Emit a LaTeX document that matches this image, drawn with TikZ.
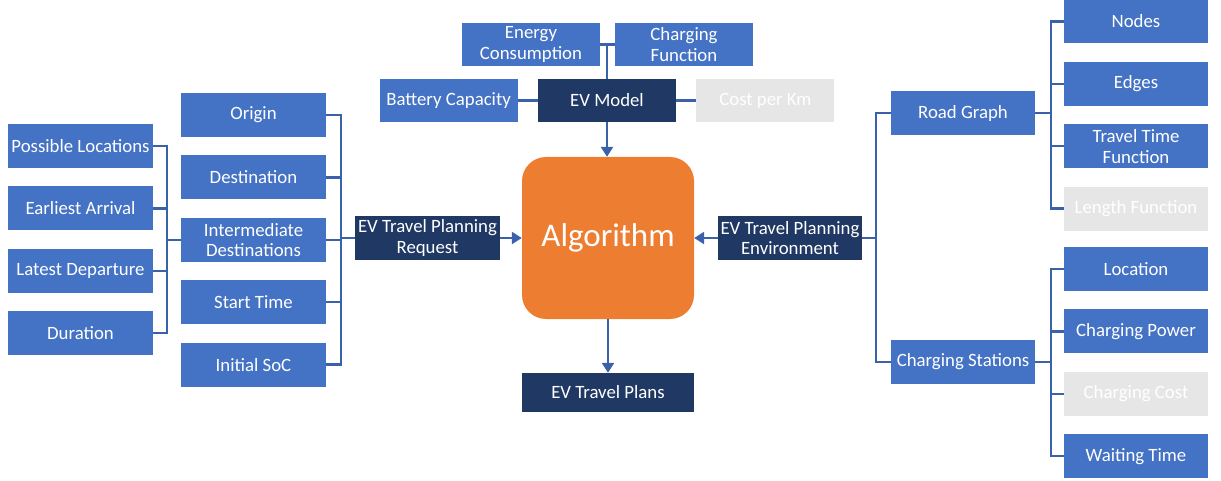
\documentclass[tikz,border=0pt]{standalone}
\usepackage{fontspec}
\setmainfont{Carlito}
\usetikzlibrary{positioning,arrows.meta}
\definecolor{boxblue}{HTML}{4472C4}
\definecolor{navy}{HTML}{203864}
\definecolor{offgrey}{HTML}{E7E6E6}
\definecolor{algoorange}{HTML}{ED7D31}
\definecolor{linkblue}{HTML}{3A62AA}
\begin{document}
\begin{tikzpicture}[x=1pt, y=-1pt, node distance=18pt,
    item/.style={rectangle, fill=boxblue, text=white, minimum width=145pt, minimum height=44pt,
      inner sep=2pt, align=center, font=\fontsize{18.8}{20.5}\selectfont},
    main/.style={item, fill=navy},
    off/.style={item, fill=offgrey},
    small/.style={minimum width=138pt, minimum height=43pt},
    algo/.style={rectangle, fill=algoorange, text=white, rounded corners=24pt,
      minimum width=172pt, minimum height=162pt, font=\fontsize{33}{38}\selectfont},
    link/.style={draw=linkblue, line width=2.4pt},
    flow/.style={link, -{Triangle[length=10pt, width=12pt]}}]
    \useasboundingbox (0,0) rectangle (1221,481);
    % request side
    \node[item] (posloc) at (80.5,146) {Possible Locations};
    \node[item, below=of posloc] (earliest) {Earliest Arrival};
    \node[item, below=of earliest] (latest) {Latest Departure};
    \node[item, below=of latest] (duration) {Duration};
    \node[item] (origin) at (253.5,115) {Origin};
    \node[item, below=of origin] (dest) {Destination};
    \node[item, below=of dest] (intdest) {Intermediate\\Destinations};
    \node[item, below=of intdest] (start) {Start Time};
    \node[item, below=of start] (soc) {Initial SoC};
    \node[main] (request) at (427.5,238) {EV Travel Planning\\Request};
    % centre
    \node[algo] (algorithm) at (608,238) {Algorithm};
    \node[main, minimum width=172pt, minimum height=39pt] (plans) at (608,392.5) {EV Travel Plans};
    % ev model
    \node[main, small] (evmodel) at (607,100.5) {EV Model};
    \node[item, small, left=20pt of evmodel] (battery) {Battery Capacity};
    \node[off, small, right=20pt of evmodel] (costkm) {Cost per Km};
    \node[item, small] (energy) at (531,44.5) {Energy\\Consumption};
    \node[item, small] (chfun) at (684,44.5) {Charging\\Function};
    % environment side
    \node[main, minimum width=144pt] (env) at (790,238) {EV Travel Planning\\Environment};
    \node[item, minimum width=144pt] (road) at (963,113) {Road Graph};
    \node[item, minimum width=144pt] (stations) at (963,362) {Charging Stations};
    \node[item, minimum width=144pt] (nodes) at (1136,21.5) {Nodes};
    \node[item, minimum width=144pt, below=of nodes] (edges) {Edges};
    \node[item, minimum width=144pt, below=of edges] (ttf) {Travel Time\\Function};
    \node[off, minimum width=144pt, below=of ttf] (lenfun) {Length Function};
    \node[item, minimum width=144pt] (location) at (1136,269) {Location};
    \node[item, minimum width=144pt, below=of location] (power) {Charging Power};
    \node[off, minimum width=144pt, below=of power] (chcost) {Charging Cost};
    \node[item, minimum width=144pt, below=of chcost] (waiting) {Waiting Time};

    \foreach \n in {posloc,earliest,latest,duration}
      \draw[link] (\n.east) -- ++(14,0) |- (intdest.west);
    \foreach \n in {origin,dest,intdest,start,soc}
      \draw[link] (\n.east) -- ++(15,0) |- (request.west);
    \draw[flow] (request) -- (algorithm);
    \draw[link] (battery) -- (evmodel);
    \draw[link] (evmodel) -- (costkm);
    \draw[link] (energy.east) -| (evmodel.north);
    \draw[link] (chfun.west) -| (evmodel.north);
    \draw[flow] (evmodel.south) -- (evmodel.south |- algorithm.north);
    \draw[flow] (algorithm.south |- plans.north) ++(0,-54) -- (plans);
    \draw[flow] (env) -- (algorithm);
    \foreach \n in {road,stations}
      \draw[link] (\n.west) -- ++(-15,0) |- (env.east);
    \foreach \n in {nodes,edges,ttf,lenfun}
      \draw[link] (\n.west) -- ++(-13,0) |- (road.east);
    \foreach \n in {location,power,chcost,waiting}
      \draw[link] (\n.west) -- ++(-13,0) |- (stations.east);
\end{tikzpicture}
\end{document}
